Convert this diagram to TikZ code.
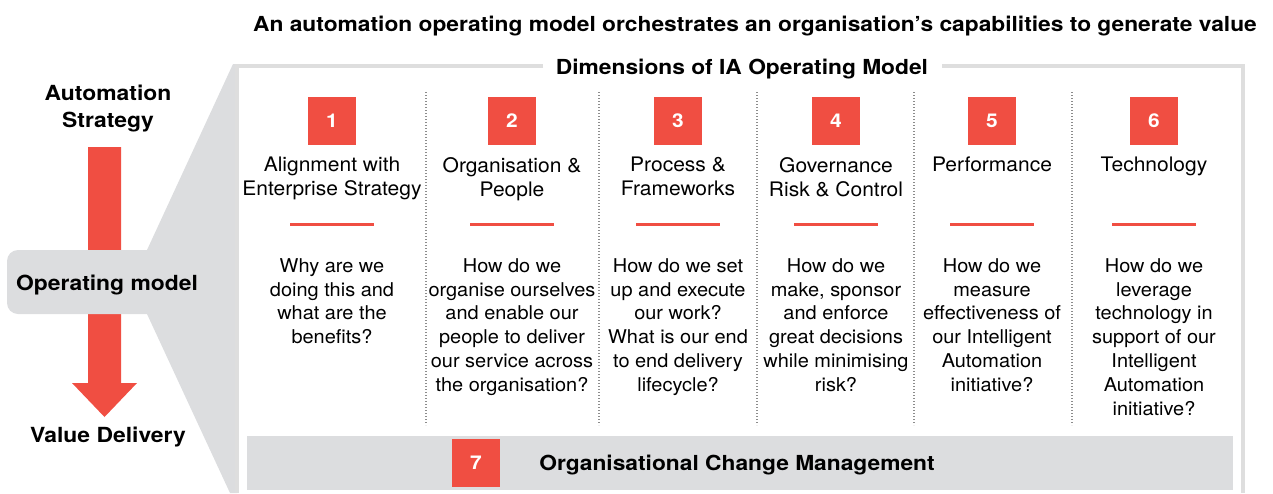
\documentclass[tikz,border=0pt]{standalone}
\usepackage{fontspec}
\setmainfont{TeX Gyre Heros}
\newfontfamily\bodyfont{TeX Gyre Heros}[FakeStretch=1.05]
\newfontfamily\headfont{TeX Gyre Heros}[FakeStretch=1.1]
\definecolor{iared}{RGB}{240,78,66}
\definecolor{iagrey}{RGB}{220,221,223}
\definecolor{frameg}{RGB}{222,222,222}
\definecolor{dotg}{RGB}{140,140,140}
\begin{document}
\begin{tikzpicture}[x=1pt,y=-1pt,
  numbox/.style={fill=iared,minimum size=48pt,inner sep=0pt,text=white,font=\headfont\bfseries\fontsize{19}{24}\selectfont},
  coltitle/.style={anchor=north,inner sep=0pt,align=center,font=\bodyfont\fontsize{20}{24}\selectfont},
  colbody/.style={anchor=north,inner sep=0pt,align=center,font=\bodyfont\fontsize{19}{23.8}\selectfont},
  redrule/.style={draw=iared,line width=3pt},
  sepline/.style={draw=dotg,line width=1.3pt,dash pattern=on 1.3pt off 1.7pt},
  sidelabel/.style={inner sep=0pt,align=center,font=\headfont\bfseries\fontsize{20.8}{27}\selectfont},
  heading/.style={inner sep=0pt,font=\headfont\bfseries\fontsize{20.7}{24}\selectfont}]
\useasboundingbox (0,0) rectangle (1273,493);

% headline
\node[heading,anchor=base] (headline) at (755,31) {An automation operating model orchestrates an organisation’s capabilities to generate value};

% strategy-to-value arrow on the left
\fill[iared] (88,147) -- (121,147) -- (121,383) -- (137,383) -- (104.5,417) -- (72,383) -- (88,383) -- cycle;

% grey wedge opening from the operating model into the frame
\fill[iagrey] (237,64) -- (233,64) -- (147,250) -- (147,314) -- (230,493) -- (237,493) -- cycle;
\fill[iagrey,rounded corners=11pt] (7,250) rectangle (175,314);

\node[sidelabel,anchor=base] (strategy) at (108,127) {Automation\\Strategy};
\node[sidelabel,anchor=base] (opmodel) at (107,290) {Operating model};
\node[sidelabel,anchor=base] (value) at (108,442) {Value Delivery};

% frame around the dimensions
\draw[frameg,line width=4pt] (543,66) -- (237,66) -- (237,493);
\draw[frameg,line width=4pt] (942,66) -- (1243,66) -- (1243,493);
\node[heading,anchor=base] (dims) at (742,74) {Dimensions of IA Operating Model};

% dotted column separators
\foreach \x in {426,599,757,914,1072}
  \draw[sepline] (\x,92) -- (\x,425);

% the six dimensions
\foreach \i/\cx/\ttl/\body in {
  1/332/{Alignment with\\Enterprise Strategy}/{Why are we\\doing this and\\what are the\\benefits?},
  2/512/{Organisation \&\\People}/{How do we\\organise ourselves\\and enable our\\people to deliver\\our service across\\the organisation?},
  3/678/{Process \&\\Frameworks}/{How do we set\\up and execute\\our work?\\What is our end\\to end delivery\\lifecycle?},
  4/836/{Governance\\Risk \& Control}/{How do we\\make, sponsor\\and enforce\\great decisions\\while minimising\\risk?},
  5/992/{Performance}/{How do we\\measure\\effectiveness of\\our Intelligent\\Automation\\initiative?},
  6/1154/{Technology}/{How do we\\leverage\\technology in\\support of our\\Intelligent\\Automation\\initiative?}}{
  \node[numbox] (num\i) at (\cx,121) {\i};
  \node[coltitle] (title\i) at (\cx,157) {\rule{0pt}{14pt}\ttl};
  \draw[redrule] (\cx-42,224) -- (\cx+42,224);
  \node[colbody] (body\i) at (\cx,258) {\rule{0pt}{14pt}\body};
}

% change management bar
\fill[iagrey] (247,436) rectangle (1233,490);
\node[numbox] (num7) at (476,463) {7};
\node[heading,anchor=base] (ocm) at (737,470) {Organisational Change Management};
\end{tikzpicture}
\end{document}
